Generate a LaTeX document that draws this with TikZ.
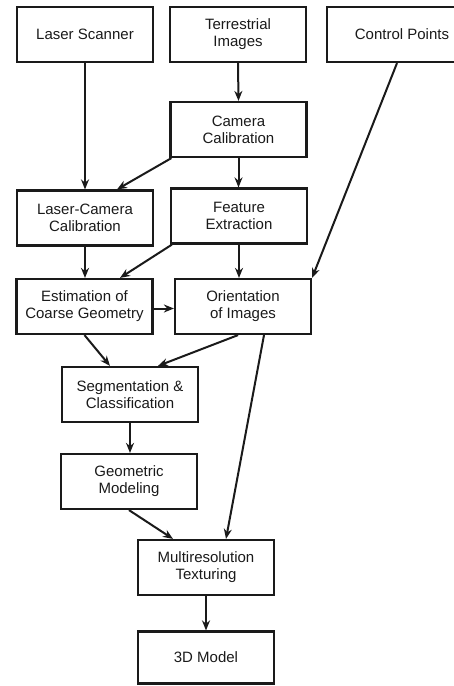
\documentclass[tikz,border=0pt]{standalone}
\usepackage{fontspec}
\setmainfont{Liberation Sans}
\usepackage{tikz}
\usetikzlibrary{arrows.meta, positioning}
\definecolor{colInk}{HTML}{1A1A1A}
\tikzset{
  % Process boxes
  pbox/.style={
    draw=colInk, line width=2.2pt,
    align=center, inner sep=0pt,
    minimum width=136pt, minimum height=55pt,
    font=\fontsize{15}{17}\selectfont, text=colInk,
  },
  % Arrows
  arr/.style={-{Stealth[length=10pt,width=8pt]}, line width=2pt, colInk},
}
\begin{document}
\begin{tikzpicture}[x=1pt, y=-1pt]
\useasboundingbox (0,0) rectangle (453,686);

%% TOP ROW -- data sources
\node[pbox] (scan) at (85,34.5)   {Laser Scanner};
\node[pbox] (terr) at (238,34.5)  {Terrestrial\\Images};
\node[pbox, minimum width=150pt] (ctrl) at (402,34.5) {Control Points};

%% CALIBRATION
\node[pbox] (camcal) at (238.5,129.5) {Camera\\Calibration};
\node[pbox] (lcc)    at (85,218)      {Laser-Camera\\Calibration};
\node[pbox] (feat)   at (239,216)     {Feature\\Extraction};

%% GEOMETRY + ORIENTATION
\node[pbox] (est)    at (84.5,306.5)  {Estimation of\\Coarse Geometry};
\node[pbox] (orient) at (243,306.5)   {Orientation\\of Images};

%% MODELLING CHAIN
\node[pbox] (seg)    at (130,394.5)   {Segmentation \&\\Classification};
\node[pbox] (geo)    at (129,481.5)   {Geometric\\Modeling};
\node[pbox] (multi)  at (206,567.5)   {Multiresolution\\Texturing};
\node[pbox, minimum height=52pt] (model) at (206,657.5) {3D Model};

%% ARROWS
\draw[arr] (scan.south) -- (lcc.north);
\draw[arr] (terr.south) -- (camcal.south |- camcal.north);
\draw[arr] ([xshift=2pt]camcal.south west) -- ([xshift=32pt]lcc.north);
\draw[arr] (camcal.south) -- (camcal.south |- feat.north);
\draw[arr] ([xshift=-5pt]ctrl.south) -- (orient.north east);
\draw[arr] (lcc.south) -- (lcc.south |- est.north);
\draw[arr] ([xshift=2pt]feat.south west) -- ([xshift=35.5pt]est.north);
\draw[arr] (feat.south) -- (feat.south |- orient.north);
\draw[arr] ([yshift=-2pt]est.east) -- ([yshift=-2pt]orient.west);
\draw[arr] (est.south) -- ([xshift=-20pt]seg.north);
\draw[arr] ([xshift=-5pt]orient.south) -- ([xshift=28pt]seg.north);
\draw[arr] ([xshift=21pt]orient.south) -- ([xshift=20pt]multi.north);
\draw[arr] (seg.south) -- (seg.south |- geo.north);
\draw[arr] (geo.south) -- ([xshift=-33pt]multi.north);
\draw[arr] (multi.south) -- (model.north);

\end{tikzpicture}
\end{document}
